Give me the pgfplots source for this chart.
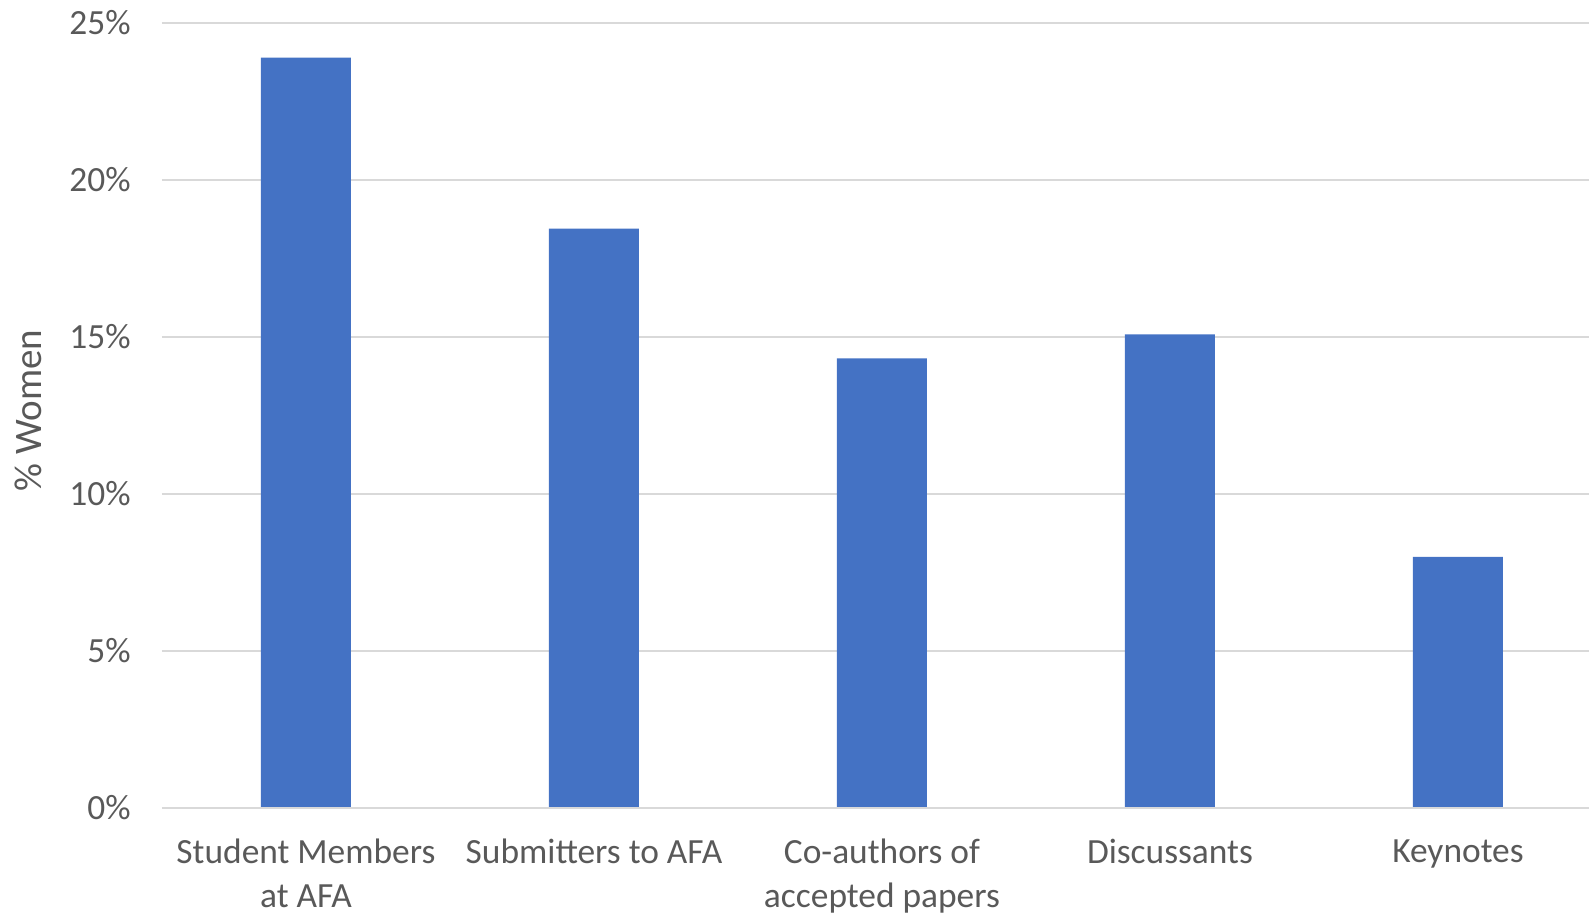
\documentclass[border=0pt]{standalone}
\usepackage{fontspec}
\setmainfont{Carlito}
\usepackage{pgfplots}
\pgfplotsset{compat=1.18}
\usepackage{pgfplotstable}

\definecolor{barblue}{HTML}{4472C4}
\definecolor{gridgray}{HTML}{D9D9D9}
\definecolor{textgray}{HTML}{595959}

% Share of women at each stage
\pgfplotstableread{
x  pct
0  23.9
1  18.45
2  14.32
3  15.08
4  8.0
}\womendata

\begin{document}
\begin{tikzpicture}
\begin{axis}[
  at={(0,0)}, anchor=south west,
  scale only axis,
  width=713.5pt, height=392.5pt,
  xmin=-0.5, xmax=4.455,
  ymin=0, ymax=25,
  axis line style={draw=none},
  axis x line*=bottom,
  ytick={0,5,10,15,20,25},
  yticklabels={0\%,5\%,10\%,15\%,20\%,25\%},
  xtick={0,1,2,3,4},
  xticklabels={{Student Members\\at AFA},{Submitters to AFA},{Co-authors of\\accepted papers},{Discussants},{Keynotes}},
  major tick length=0pt,
  ymajorgrids,
  grid style={gridgray, line width=0.7pt},
  tick label style={font=\fontsize{17.7}{21.6}\selectfont, text=textgray},
  yticklabel style={anchor=east, inner sep=0pt, xshift=-15.5pt},
  xticklabel style={anchor=north, align=center, inner sep=0pt, yshift=-15.5pt},
  ylabel={\% Women},
  ylabel style={font=\fontsize{19.5}{23}\selectfont, text=textgray, at={(rel axis cs:0,0.5)}, anchor=center, yshift=67pt, xshift=2.5pt},
  clip=false,
]
\addplot[ybar, bar width=45pt, fill=barblue, draw=none] table[x=x, y=pct] {\womendata};
\draw[gridgray, line width=0.7pt] (axis cs:-0.5,0) -- (axis cs:4.455,0);
\end{axis}
\pgfresetboundingbox
\path[use as bounding box] (-81pt,-52.5pt) rectangle (713.5pt,404pt);
\end{tikzpicture}
\end{document}
